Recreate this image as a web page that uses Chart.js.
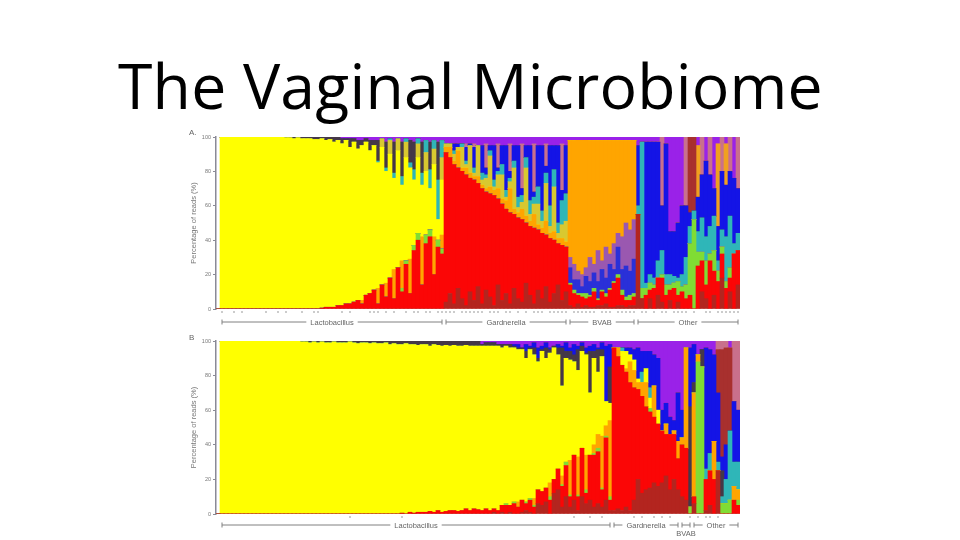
<!DOCTYPE html>
<html lang="en">
<head>
<meta charset="UTF-8">
<title>The Vaginal Microbiome</title>
<script src="https://cdn.jsdelivr.net/npm/chart.js"></script>
<style>
  html, body { margin: 0; padding: 0; background: #fff; }
  body { width: 960px; height: 540px; position: relative; overflow: hidden; }
  h1 { position: absolute; left: 118px; top: 42px; margin: 0; font: 400 62.5px "Open Sans", "Noto Sans", sans-serif; color: #000; white-space: nowrap; letter-spacing: 0.2px; }
  canvas { position: absolute; left: 170px; filter: blur(0.45px); }
  #chartA { top: 125px; }
  #chartB { top: 330px; }
</style>
</head>
<body>
<h1>The Vaginal Microbiome</h1>
<canvas id="chartA" width="580" height="210"></canvas>
<canvas id="chartB" width="580" height="210"></canvas>
<script>
// Panel A, one row per group: Lactobacillus 56, Gardnerella 31, BVAB 17, Other 26
const aBrown = [
  0,0,0,0,0,0,0,0,0,0, 0,0,0,0,0,0,0,0,0,0, 0,0,0,0,0,0,0,0,0,0, 0,0,0,0,0,0,0,0,0,0, 0,0,0,0,0,0,0,0,0,0, 0,0,0,0,0,0,
  4,9,3,12,6,2,10,5,13,3,11,7,2,14,5,9,3,12,6,4,15,8,3,11,6,13,4,9,14,5,10,
  2,1,3,1,2,1,1,2,2,3,1,1,2,2,1,2,2,
  55,6,0,6,0,8,4,0,5,0,4,0,0,0,0,0,10,6,0,8,0,18,0,10,0,14];
const aRed = [
  0,0,0,0,0,0,0,0,0,0, 0,0,0,0,0,0,0,0,0,0, 0,0,0,0,0, .5,1,1,1,2,2,3,3,4,5,3,8,9,11,3,14,7,18,6,24,10,26,9,34,40,14,38,42,20,36,32,
  87,79,81,70,74,76,66,70,60,67,57,60,64,50,56,49,53,43,47,48,35,40,44,35,38,30,37,31,24,32,26,
  12,8,5,6,4,6,9,3,8,4,10,14,16,6,4,3,5,
  0,0,8,5,12,10,14,8,6,12,4,10,6,8,0,25,18,8,28,14,16,14,12,8,32,20];
const aGreen = [
  0,0,0,0,0,0,0,0,0,0, 0,0,0,0,0,0,0,0,0,0, 0,0,0,0,0,0,0,0,0,0, 0,0,0,0,0,0,0,0,0,0, 0,0,0,0,0, 2,2,0,3,4,0,5,4,0,4,3,
  0,0,0,0,0,0,0,0,0,0, 0,0,0,0,0,0,0,0,0,0, 0,0,0,0,0,0,0,0,0,0, 0,
  1,2,1,2,3,1,2,1,1,2,1,1,2,3,2,3,2,
  0,6,4,4,2,0,2,6,3,3,8,3,8,30,52,8,5,14,4,12,6,4,4,6,0,0];
const aBlueLow = [
  0,0,0,0,0,0,0,0,0,0, 0,0,0,0,0,0,0,0,0,0, 0,0,0,0,0,0,0,0,0,0, 0,0,0,0,0,0,0,0,0,0, 0,0,0,0,0,0,0,0,0,0, 0,0,0,0,0,0,
  0,0,0,0,0,0,0,0,0,0, 0,0,0,0,0,0,0,0,0,0, 0,0,0,0,0,0,0,0,0,0, 0,
  9,6,8,4,10,8,9,10,12,9,14,7,16,12,18,14,20,
  0,0,0,0,0,0,0,0,0,0, 0,0,0,0,0,0,0,0,0,0, 0,0,0,0,0,0];
const aMixLow = [
  0,0,0,0,0,0,0,0,0,0, 0,0,0,0,0,0,0,0,0,0, 0,0,0,0,0,0,0,0,0,0, 0,0,0,0,0,0,0,0,0,0, 0,0,0,0,0,0,0,0,0,0, 0,0,0,0,0,0,
  0,0,0,0,0,0,0,0,0,0, 0,0,0,0,0,0,0,0,0,0, 0,0,0,0,0,0,0,0,0,0, 0,
  6,9,5,7,5,14,5,18,5,18,6,15,8,19,25,24,23,
  0,0,0,0,0,0,0,0,0,0, 0,0,0,0,0,0,0,0,0,0, 0,0,0,0,0,0];
const aOrange = [
  0,0,0,0,0,0,0,0,0,0, 0,0,0,0,0,0,0,0,0,0, 0,0,0,0,0,0,0,0,0,0, 0,0,0,0,0, 2,0,0,0,9,0,8,0,17,0,16,0,20,0,0,28,0,0,22,0,8,
  3,6,2,10,2,4,3,2,4,2,2,4,3,6,3,5,14,3,3,6,4,3,8,3,3,8,3,5,3,4,3,
  68,72,76,78,74,68,72,64,70,62,66,60,54,56,48,52,46,
  0,0,0,0,0,0,0,0,0,0, 0,0,0,0,0,0,0,0,0,0, 0,0,0,0,0,0];
const aYellow = [
  100,100,100,100,100,100,100,100,100,100,100,100,100,100,100,100, 99.5,99.5,99,99.5,99,99,99,98.5,
  98.5,98.5,97,97.5,96,96,94,95,91,93,88,90,89,83,84,73,80,65,72,53,68,44,60,53,38,44,30,37,24,42,12,32,
  0,0,0,0,0,0,0,0,0,0, 0,0,0,0,0,0,0,0,0,0, 0,0,0,0,0,0,0,0,0,0, 0,
  0,0,0,0,0,0,0,0,0,0,0,0,0,0,0,0,0,
  0,0,0,0,0,0,0,0,0,0, 0,0,0,0,0,0,0,0,0,0, 0,0,0,0,0,0];
const aOlive = [
  0,0,0,0,0,0,0,0,0,0, 0,0,0,0,0,0,0,0,0,0, 0,0,0,0,0,0,0,0,0,0, 0,0,0,0,0,0,0,0,0, 0,5,0,8,0,7,0,9,0,0,8,0,11,0,9,0,13,
  2,2,4,2,12,2,16,2,18,3,6,18,2,8,14,2,4,24,3,4,28,4,6,12,4,22,4,26,3,8,12,
  0,0,0,0,0,0,0,0,0,0,0,0,0,0,0,0,0,
  0,0,0,0,0,0,0,0,0,0, 0,0,0,0,0,0,0,0,0,0, 0,0,0,0,0,0];
const aTeal = [
  0,0,0,0,0,0,0,0,0,0, 0,0,0,0,0,0,0,0,0,0, 0,0,0,0,0,0,0,0,0,0, 0,0,0,0,0,0,0,0,0, 1,0,2,1,3,0,5,2,3,6,3,7,7,11,5,23,10,
  0,0,2,0,2,2,0,3,0,4,2,3,4,2,6,4,2,4,6,4,6,8,4,10,6,6,12,10,6,14,16,
  0,0,0,0,0,0,0,0,0,0,0,0,0,0,0,0,0,
  5,85,3,5,4,10,14,6,6,4,2,7,16,10,5,12,20,14,16,20,6,10,26,30,6,10];
const aDark = [
  0,0,0,0,0,0,0,0,0,0,0,0,0,0,0,0, .5,.5,1,.5,1,1,1,1.5,
  1.5,1,2,1.5,3,2,3,1,5,2,5,3,2,6,3,12,0,15,0,18,0,20,0,13,16,0,18,0,16,0,22,0,
  0,0,0,0,0,0,0,0,0,0, 0,0,0,0,0,0,0,0,0,0, 0,0,0,0,0,0,0,0,0,0, 0,
  0,0,0,0,0,0,0,0,0,0,0,0,0,0,0,0,0,
  0,0,0,0,0,0,0,0,0,0, 0,0,0,0,0,0,0,0,0,0, 0,0,0,0,0,0];
const aBlue = [
  0,0,0,0,0,0,0,0,0,0, 0,0,0,0,0,0,0,0,0,0, 0,0,0,0,0,0,0,0,0,0, 0,0,0,0,0,0,0,0,0,0, 0,0,0,0,0,0,0,0,0,0, 0,0,0,0,0,0,
  0,0,4,2,0,8,1,12,0,16,4,3,20,2,11,26,4,9,30,4,7,32,3,24,38,4,35,14,45,6,28,
  0,0,0,0,0,0,0,0,0,0,0,0,0,0,0,0,0,
  35,0,82,77,79,69,26,76,25,26,32,40,30,8,0,20,25,44,30,16,20,34,30,26,38,26];
const aBrownTop = [
  0,0,0,0,0,0,0,0,0,0, 0,0,0,0,0,0,0,0,0,0, 0,0,0,0,0,0,0,0,0,0, 0,0,0,0,0,0,0,0,0,0, 0,0,0,0,0,0,0,0,0,0, 0,0,0,0,0,0,
  0,0,0,0,0,0,0,0,0,0, 0,0,0,0,0,0,0,0,0,0, 0,0,0,0,0,0,0,0,0,0, 0,
  0,0,0,0,0,0,0,0,0,0,0,0,0,0,0,0,0,
  0,0,0,0,0,0,0,0,0,0,0,0,0,44,43,0,0,0,0,0,0,0,0,0,0,0];
const aOrangeTop = [
  0,0,0,0,0,0,0,0,0,0, 0,0,0,0,0,0,0,0,0,0, 0,0,0,0,0,0,0,0,0,0, 0,0,0,0,0,0,0,0,0,0, 0,0,0,0,0,0,0,0,0,0, 0,0,0,0,0,0,
  0,0,0,0,0,0,0,0,0,0, 0,0,0,0,0,0,0,0,0,0, 0,0,0,0,0,0,0,0,0,0, 0,
  0,0,0,0,0,0,0,0,0,0,0,0,0,0,0,0,0,
  0,0,0,0,0,0,0,0,0,0,0,0,0,0,0,30,0,0,0,0,48,0,24,0,0,0];
const aPink = [
  0,0,0,0,0,0,0,0,0,0, 0,0,0,0,0,0,0,0,0,0, 0,0,0,0,0,0,0,0,0,0, 0,0,0,0,0,0,0,0,0,0, 0,0,0,0,0,0,0,0,0,0, 0,0,0,0,0,0,
  0,0,0,0,0,2,0,2,0,0,14,0,0,14,0,0,16,0,0,26,0,0,28,0,0,13,0,0,0,27,0,
  0,0,0,0,0,0,0,0,0,0,0,0,0,0,0,0,0,
  0,0,0,0,0,0,40,0,0,0,0,0,40,0,0,0,22,0,22,0,0,20,0,20,0,30];
const aPurple = [
  0,0,0,0,0,0,0,0,0,0, 0,0,0,0,0,0,0,0,0,0, 0,0,0,0,0,0,0,0,0,0, 1,1,1,1,2,2,1,2,2,2,1,3,1,3,1,3,1,2,3,1,3,2,3,2,3,2,
  4,4,4,4,4,4,4,4,5,5,4,5,5,4,5,5,4,5,5,4,5,5,4,5,5,4,5,5,5,4,5,
  2,2,2,2,2,2,2,2,2,2,2,2,2,2,2,2,2,
  5,3,3,3,3,3,0,4,55,55,50,40,0,0,0,5,0,14,0,30,4,0,4,0,24,0];

// Panel B, rows: Lactobacillus start 65, Lactobacillus end 33, Gardnerella 17, BVAB and Other 15
const bBrown = [
  0,0,0,0,0,0,0,0,0,0, 0,0,0,0,0,0,0,0,0,0, 0,0,0,0,0,0,0,0,0,0, 0,0,0,0,0,0,0,0,0,0, 0,0,0,0,0,0,0,0,0,0, 0,0,0,0,0,0,0,0,0,0, 0,0,0,0,0,
  0,0,0,1,0,1,0,1,0,0,1,2,1,0,6,5,7,0,12,14,4,10,4,8,2,10,6,8,4,6,4,8,2,
  2,3,2,4,2,8,20,12,14,15,18,16,18,22,14,20,14,
  10,8,0,6,0,0,2,5,0,25,0,0,0,0,0];
const bRed = [
  0,0,0,0,0,0,0,0,0,0, 0,0,0,0,0,0,0,0,0,0, 0,0,0,0,0,0,0,0,0,0, 0,0,0,0,0,0,0,0,0,0, 0,0,0,0,0,
  .5,0,1,.5,1,1,1,1.5,1,2,1,1.5,2,2,1.5,2,3,2,3,2.5,
  2,3,2,2,2,4,5,4,6,4,7,4,7,4,8,8,8,8,8,12,12,18,6,26,8,28,6,26,30,30,10,36,6,
  94,88,84,78,74,65,52,56,48,44,38,36,30,24,32,26,18,
  30,30,0,4,0,0,18,20,20,0,0,0,0,8,5];
const bGreen = [
  0,0,0,0,0,0,0,0,0,0, 0,0,0,0,0,0,0,0,0,0, 0,0,0,0,0,0,0,0,0,0, 0,0,0,0,0,0,0,0,0,0, 0,0,0,0,0,0,0,0,0,0, 0,0,0,0,0,0,0,0,0,0, 0,0,0,0,0,
  0,0,0,0,0,0,1,0,1,0,0,1,1,1,0,0,0,2,0,0,1,2,1,0,1,0,2,0,1,2,1,1,2,
  0,0,0,0,0,0,0,0,0,2,0,0,0,0,0,0,0,
  0,0,4,0,88,85,0,0,0,0,6,6,8,0,3];
const bOrange = [
  0,0,0,0,0,0,0,0,0,0, 0,0,0,0,0,0,0,0,0,0, 0,0,0,0,0,0,0,0,0,0, 0,0,0,0,0,0,0,0,0,0, 0,0,0,0,0,0,0,0,0,0, 0,0,0,0,0,0,0,0,0,0, 0,0,0,0,0,
  0,0,0,0,0,0,0,0,0,3,0,0,0,4,0,0,0,8,0,0,5,0,20,0,22,0,20,0,5,8,30,6,44,
  0,5,0,2,12,10,4,8,14,0,18,0,0,6,0,2,10,
  4,58,0,60,4,0,0,0,22,0,0,0,0,8,6];
const bYellow = [
  100,100,100,100,100,100,100,100,100,100,100,100,100,100,100,100,100,100,100,100,
  99.5,99.5,99,99.5,99,99.5,99,99,99.5,99,99,99,99.5,99,98.5,99,99,98.5,99,98.5,98.5,99,98,98.5,98,
  97.5,98.5,97,97.5,96.5,97,97,95.5,97,95.5,96,96,95,95.5,95.5,95,94.5,95,94,94.5,
  95,94,95,94,95,91,91,91,89,88,87,83,86,83,74,81,75,75,76,66,52,60,58,54,50,56,58,36,50,36,46,14,10,
  0,0,8,10,4,6,2,0,8,6,0,8,0,0,0,0,0,
  0,0,0,0,0,0,0,0,0,0,0,0,0,0,0];
const bTeal = [
  0,0,0,0,0,0,0,0,0,0, 0,0,0,0,0,0,0,0,0,0, 0,0,0,0,0,0,0,0,0,0, 0,0,0,0,0,0,0,0,0,0, 0,0,0,0,0,0,0,0,0,0, 0,0,0,0,0,0,0,0,0,0, 0,0,0,0,0,
  0,0,0,0,0,0,0,0,0,0, 0,0,0,0,0,0,0,0,0,0, 0,0,0,0,0,0,0,0,0,0, 0,0,0,
  0,0,2,0,0,0,0,6,0,6,0,0,0,0,0,0,0,
  0,0,0,0,0,0,6,10,0,5,4,14,40,14,16];
const bDark = [
  0,0,0,0,0,0,0,0,0,0, 0,0,0,0,0,0,0,0,0,0,
  .5,.5,1,.5,1,.5,1,1,.5,1,1,1,.5,1,1.5,1,1,1.5,1,1.5,1.5,1,2,1.5,2,
  2,1.5,2,2,2.5,2,2,3,2,2.5,3,2.5,3,2.5,3,3,2.5,3,3,3,
  1,2,2,2,1,2,1,2,1,1,1,4,1,4,2,1,6,2,1,4,22,4,5,4,12,3,1,24,4,13,4,0,21,
  0,0,0,0,0,0,0,0,0,0,0,0,0,0,0,0,0,
  0,0,58,6,0,10,0,0,0,0,15,0,0,0,0];
const bBlue = [
  0,0,0,0,0,0,0,0,0,0, 0,0,0,0,0,0,0,0,0,0, 0,0,0,0,0,0,0,0,0,0, 0,0,0,0,0,0,0,0,0,0, 0,0,0,0,0,0,0,0,0,0, 0,0,0,0,0,0,0,0,0,0, 0,0,0,0,0,
  0,0,0,0,0,0,0,0,1,2,0,4,1,3,6,2,3,1,0,2,1,5,2,6,2,2,3,3,4,1,4,32,13,
  0,0,0,2,4,6,18,12,10,21,18,30,12,12,10,6,28,
  16,0,34,22,0,0,70,60,50,40,8,20,0,35,30];
const bBrownTop = [
  0,0,0,0,0,0,0,0,0,0, 0,0,0,0,0,0,0,0,0,0, 0,0,0,0,0,0,0,0,0,0, 0,0,0,0,0,0,0,0,0,0, 0,0,0,0,0,0,0,0,0,0, 0,0,0,0,0,0,0,0,0,0, 0,0,0,0,0,
  0,0,0,0,0,0,0,0,0,0, 0,0,0,0,0,0,0,0,0,0, 0,0,0,0,0,0,0,0,0,0, 0,0,0,
  0,0,0,0,0,0,0,0,0,0,0,0,0,0,0,0,0,
  0,0,0,0,0,0,0,0,0,25,62,56,48,0,0];
const bPink = [
  0,0,0,0,0,0,0,0,0,0, 0,0,0,0,0,0,0,0,0,0, 0,0,0,0,0,0,0,0,0,0, 0,0,0,0,0,0,0,0,0,0, 0,0,0,0,0,0,0,0,0,0, 0,0,0,0,0,0,0,0,0,0, 0,0,0,0,0,
  0,0,0,0,0,0,0,0,0,0, 0,0,0,0,0,0,0,0,0,0, 0,0,0,0,0,0,0,0,0,0, 0,0,0,
  0,0,0,0,0,0,0,0,0,0,0,0,0,0,0,0,0,
  0,0,0,0,0,0,0,0,0,5,5,4,0,35,40];
const bPurple = [
  0,0,0,0,0,0,0,0,0,0, 0,0,0,0,0,0,0,0,0,0, 0,0,0,0,0,0,0,0,0,0, 0,0,0,0,0,0,0,0,0,0, 0,0,0,0,0,0,0,0,0,0, 0,0,0,0,0,0,0,0,0,0, 0,0,0,0,0,
  2,1,1,1,2,2,2,2,2,2,4,2,3,1,4,3,1,4,3,2,3,1,4,2,3,1,4,3,2,4,1,3,2,
  4,4,4,4,4,5,4,6,6,6,8,10,40,36,44,46,30,
  40,4,4,2,8,5,4,5,8,0,0,0,4,0,0];

const yTicks = [0, 20, 40, 60, 80, 100];

// group brackets: name, first bar, last bar
const groupsA = [['Lactobacillus', 0, 55], ['Gardnerella', 56, 86], ['BVAB', 87, 103], ['Other', 104, 129]];
const groupsB = [['Lactobacillus', 0, 97], ['Gardnerella', 98, 114], ['BVAB', 115, 117], ['Other', 118, 129]];
// little marks under the bars
const rugA = [0,3,5,11,14,16,20,23,24,30,32,37,38,39,41,43,46,48,49,51,52,54,55,56,57,58,60,61,62,63,64,65,67,68,69,71,72,74,76,78,79,80,82,83,84,85,86,88,89,90,91,92,93,95,96,97,99,100,101,102,103,105,106,108,110,111,113,114,115,116,118,121,122,124,125,126,127,128,129];
const rugB = [32,45,88,92,95,103,105,108,110,112,117,119,121,122,124];

function sets(s) {
  // first empty slot keeps the y axis a little away from the bars
  const pad = arr => [0].concat(arr);
  return [
    { label: 'brown', data: pad(s.brown), backgroundColor: '#b3251f' },
    { label: 'red', data: pad(s.red), backgroundColor: '#fb0606' },
    { label: 'green', data: pad(s.green), backgroundColor: '#80dc34' },
    { label: 'blue low', data: pad(s.blueLow || []), backgroundColor: '#2a30d8' },
    { label: 'mix low', data: pad(s.mixLow || []), backgroundColor: '#9a58b0' },
    { label: 'orange', data: pad(s.orange), backgroundColor: '#ffa500' },
    { label: 'yellow', data: pad(s.yellow), backgroundColor: '#ffff00' },
    { label: 'olive', data: pad(s.olive || []), backgroundColor: '#d8c830' },
    { label: 'teal', data: pad(s.teal), backgroundColor: '#2fb6b8' },
    { label: 'dark', data: pad(s.dark), backgroundColor: '#453848' },
    { label: 'blue', data: pad(s.blue), backgroundColor: '#1414e6' },
    { label: 'brown top', data: pad(s.brownTop), backgroundColor: '#a8302e' },
    { label: 'orange top', data: pad(s.orangeTop || []), backgroundColor: '#f0a020' },
    { label: 'pink', data: pad(s.pink), backgroundColor: '#c9708c' },
    { label: 'purple', data: pad(s.purple), backgroundColor: '#9a22e8' }
  ];
}

function extras(letter, groups, rug, lineY, rugY) {
  return {
    id: 'extras',
    afterDraw(chart) {
      const c = chart.ctx, x = chart.scales.x;
      const half = x.getPixelForValue(1) - x.getPixelForValue(0);
      c.save();
      c.fillStyle = '#666';
      c.font = '8px "Liberation Sans", sans-serif';
      c.textBaseline = 'middle';
      c.textAlign = 'left';
      c.fillText(letter, 19, 8);
      // rug
      c.fillStyle = '#999';
      rug.forEach(i => c.fillRect(x.getPixelForValue(i + 1) - 0.5, rugY, 1, 2));
      // brackets
      c.strokeStyle = '#808080';
      c.lineWidth = 1;
      groups.forEach(g => {
        const x0 = x.getPixelForValue(g[1] + 1) - half / 2 + 2;
        const x1 = x.getPixelForValue(g[2] + 1) + half / 2 - 2;
        c.beginPath();
        c.moveTo(x0, lineY); c.lineTo(x1, lineY);
        c.moveTo(x0, lineY - 2.5); c.lineTo(x0, lineY + 2.5);
        c.moveTo(x1, lineY - 2.5); c.lineTo(x1, lineY + 2.5);
        c.stroke();
        c.font = '7.5px "Liberation Sans", sans-serif';
        c.textAlign = 'center';
        const w = c.measureText(g[0]).width + 8;
        const mid = (x0 + x1) / 2;
        if (g[0] === 'BVAB' && x1 - x0 < 30) {
          c.fillStyle = '#666';
          c.fillText(g[0], mid, lineY + 8.5);
        } else {
          c.fillStyle = '#fff';
          c.fillRect(mid - w / 2, lineY - 4, w, 8);
          c.fillStyle = '#666';
          c.fillText(g[0], mid, lineY + 0.5);
        }
      });
      c.restore();
    }
  };
}

function panel(id, s, letter, groups, rug, lineY, rugY, axisTitle) {
  new Chart(document.getElementById(id), {
    type: 'bar',
    data: { labels: [''].concat(s.red.map((_, i) => i + 1)), datasets: sets(s) },
    options: {
      responsive: false,
      animation: false,
      devicePixelRatio: 1,
      layout: { padding: { top: s.top, right: 10, bottom: s.bottom, left: 0 } },
      datasets: { bar: { barPercentage: 1, categoryPercentage: 1, borderWidth: 0 } },
      plugins: { legend: { display: false }, tooltip: { enabled: false } },
      scales: {
        x: { stacked: true, display: false },
        y: {
          stacked: true, min: 0, max: 100,
          afterFit: sc => { sc.width = 46; },
          afterBuildTicks: sc => { sc.ticks = yTicks.map(v => ({ value: v })); },
          border: { color: '#8a8a96', width: 1.5 },
          grid: { drawOnChartArea: false, tickLength: 3, color: '#8a8a96' },
          ticks: { color: '#777', padding: 2, font: { size: 5.5, family: '"Liberation Sans", sans-serif' } },
          title: { display: true, text: axisTitle, color: '#777', padding: { top: 19, bottom: 0 }, font: { size: 7.5, family: '"Liberation Sans", sans-serif' } }
        }
      }
    },
    plugins: [extras(letter, groups, rug, lineY, rugY)]
  });
}

panel('chartA', {
  brown: aBrown, red: aRed, green: aGreen, blueLow: aBlueLow, mixLow: aMixLow, orange: aOrange, yellow: aYellow, olive: aOlive, teal: aTeal,
  dark: aDark, blue: aBlue, brownTop: aBrownTop, orangeTop: aOrangeTop, pink: aPink, purple: aPurple,
  top: 12, bottom: 26
}, 'A.', groupsA, rugA, 197, 186, 'Percentage of reads (%)');

panel('chartB', {
  brown: bBrown, red: bRed, green: bGreen, orange: bOrange, yellow: bYellow, teal: bTeal,
  dark: bDark, blue: bBlue, brownTop: bBrownTop, pink: bPink, purple: bPurple,
  top: 11, bottom: 26
}, 'B', groupsB, rugB, 195, 186, 'Percentage of reads (%)');
</script>
</body>
</html>
